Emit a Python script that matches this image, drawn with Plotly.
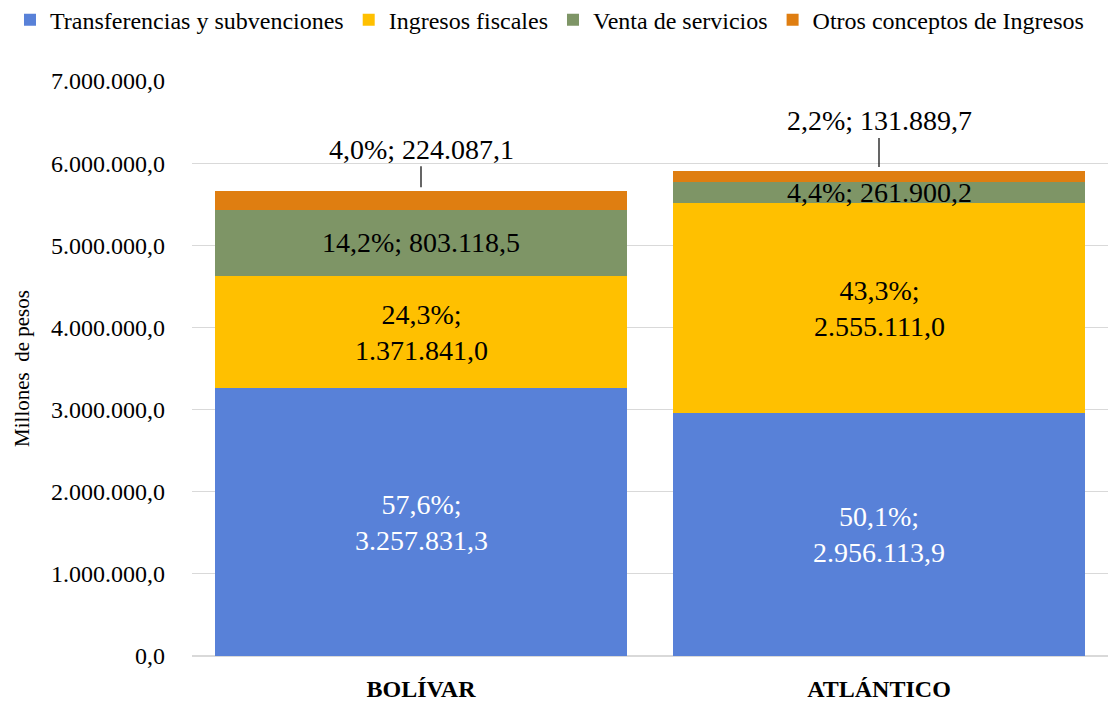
import plotly.graph_objects as go

categories = ["BOLÍVAR", "ATLÁNTICO"]
series_names = ["Transferencias y subvenciones", "Ingresos fiscales",
                "Venta de servicios", "Otros conceptos de Ingresos"]
transferencias = [3257831.3, 2956113.9]
ingresos_fiscales = [1371841.0, 2555111.0]
venta_servicios = [803118.5, 261900.2]
otros_conceptos = [224087.1, 131889.7]
tick_values = [0, 1000000, 2000000, 3000000, 4000000, 5000000, 6000000, 7000000]
tick_labels = ["0,0", "1.000.000,0", "2.000.000,0", "3.000.000,0",
               "4.000.000,0", "5.000.000,0", "6.000.000,0", "7.000.000,0"]

series_values = [transferencias, ingresos_fiscales, venta_servicios, otros_conceptos]
colors = ["#5881D8", "#FFC000", "#7E9566", "#DF7E11"]
label_colors = ["white", "black", "black", "black"]
FONT = "Liberation Serif"


def fmt(v, dec=1):
    s = f"{v:,.{dec}f}"
    return s.replace(",", "X").replace(".", ",").replace("X", ".")


fig = go.Figure()
for name, vals, col in zip(series_names, series_values, colors):
    fig.add_trace(go.Bar(name=name, x=categories, y=vals, marker_color=col,
                         marker_line_width=0, hoverinfo="x+y+name"))

totals = [sum(s[i] for s in series_values) for i in range(len(categories))]
annotations = []
for i, cat in enumerate(categories):
    base = 0.0
    for k, vals in enumerate(series_values):
        v = vals[i]
        pct = fmt(100 * v / totals[i])
        if k == len(series_values) - 1:
            annotations.append(dict(
                x=cat, y=base + v, xref="x", yref="y",
                text=f"{pct}%; {fmt(v)}", showarrow=True, arrowhead=0,
                arrowwidth=1.2, arrowcolor="black", ax=0,
                ay=-42 if i == 0 else -50, standoff=4,
                font=dict(family=FONT, size=28, color="black")))
        else:
            sep = "<br>" if v >= 1e6 else " "
            annotations.append(dict(
                x=cat, y=base + v / 2, xref="x", yref="y",
                text=f"{pct}%;{sep}{fmt(v)}", showarrow=False,
                font=dict(family=FONT, size=28, color=label_colors[k])))
        base += v

fig.update_layout(
    barmode="stack",
    bargap=0.1,
    width=1109, height=702,
    margin=dict(l=192, r=1, t=81, b=46, autoexpand=False),
    plot_bgcolor="white", paper_bgcolor="white",
    font=dict(family=FONT, size=24, color="black"),
    legend=dict(orientation="h", xref="paper", yref="paper",
                x=-0.1987, xanchor="left", y=1.145, yanchor="top",
                font=dict(family=FONT, size=24, color="black"),
                itemwidth=30, traceorder="normal"),
    annotations=annotations,
    xaxis=dict(tickfont=dict(family=FONT, size=24, color="black", weight="bold"),
               showline=True, linecolor="#D9D9D9", linewidth=1, ticks="",
               ticklabelstandoff=11),
    yaxis=dict(range=[0, 7000000], tickvals=tick_values, ticktext=tick_labels,
               tickfont=dict(family=FONT, size=24, color="black"),
               showgrid=True, gridcolor="#D9D9D9", gridwidth=1,
               zeroline=True, zerolinecolor="#D9D9D9", ticks="",
               ticklabelstandoff=26,
               title=dict(text="Millones  de pesos", standoff=15,
                          font=dict(family=FONT, size=21, color="black"))),
)

fig.write_html("out.html", config={"displayModeBar": False},
               post_script="document.body.style.margin='0';document.body.style.padding='0';")
